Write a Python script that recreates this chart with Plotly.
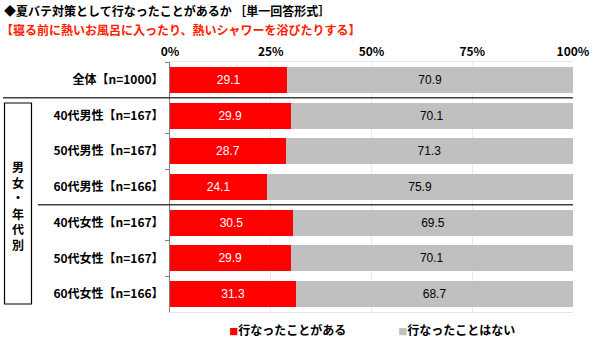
import plotly.graph_objects as go

categories = ["全体【n=1000】", "40代男性【n=167】", "50代男性【n=167】", "60代男性【n=166】",
              "40代女性【n=167】", "50代女性【n=167】", "60代女性【n=166】"]
done_vals = [29.1, 29.9, 28.7, 24.1, 30.5, 29.9, 31.3]
notdone_vals = [70.9, 70.1, 71.3, 75.9, 69.5, 70.1, 68.7]
series_names = ["行なったことがある", "行なったことはない"]
tick_vals = [0, 25, 50, 75, 100]
tick_text = ["0%", "25%", "50%", "75%", "100%"]

JP = "Noto Sans CJK JP"
RED = "#FF0000"
GRAY = "#C0C0C0"

fig = go.Figure()
fig.add_trace(go.Bar(
    y=categories, x=done_vals, orientation="h", name=series_names[0],
    marker=dict(color=RED, line=dict(width=0)),
    text=[f"{v:.1f}" for v in done_vals], textposition="inside", insidetextanchor="middle",
    textfont=dict(family="Liberation Sans", size=12, color="white"),
    showlegend=False,
))
fig.add_trace(go.Bar(
    y=categories, x=notdone_vals, orientation="h", name=series_names[1],
    marker=dict(color=GRAY, line=dict(width=0)),
    text=[f"{v:.1f}" for v in notdone_vals], textposition="inside", insidetextanchor="middle",
    textfont=dict(family="Liberation Sans", size=12, color="black"),
    showlegend=False,
))
# legend entries (coloured square drawn as part of the label text)
for name, col in zip(series_names, [RED, GRAY]):
    fig.add_trace(go.Scatter(
        x=[None], y=[None], mode="markers",
        name=f'<span style="color:{col};font-size:9px">■</span>{name}',
        marker=dict(symbol="square", size=1, color="rgba(0,0,0,0)")))

W_PLOT = 403
L = 170

def px2paper_x(p):
    return (p - L) / W_PLOT

shapes = [
    dict(type="line", xref="paper", yref="y", x0=px2paper_x(3), x1=1, y0=0.5, y1=0.5,
         line=dict(color="#404040", width=1.5)),
    dict(type="line", xref="paper", yref="y", x0=px2paper_x(38), x1=1, y0=3.5, y1=3.5,
         line=dict(color="#404040", width=1.5)),
    dict(type="rect", xref="paper", yref="paper", x0=px2paper_x(4.5), x1=px2paper_x(31.5),
         y0=1 - (304 - 62) / 250, y1=1 - (103 - 62) / 250,
         line=dict(color="black", width=1.2)),
]

annotations = [
    dict(text="◆夏バテ対策として行なったことがあるか ［単一回答形式］", xref="paper", yref="paper",
         x=px2paper_x(2), y=1 + (62 - 10) / 250, xanchor="left", yanchor="middle", showarrow=False,
         font=dict(family=JP, size=12, color="black", weight="bold")),
    dict(text="【寝る前に熱いお風呂に入ったり、熱いシャワーを浴びたりする】", xref="paper", yref="paper",
         x=px2paper_x(-1), y=1 + (62 - 30) / 250, xanchor="left", yanchor="middle", showarrow=False,
         font=dict(family=JP, size=12, color="#FF2000", weight="bold")),
    dict(text="<br>".join(list("男女・年代別")), xref="paper", yref="paper",
         x=px2paper_x(18), y=1 - (205 - 62) / 250, xanchor="center", yanchor="middle", showarrow=False,
         font=dict(family=JP, size=12, color="black", weight="bold")),
]

fig.update_layout(
    barmode="stack",
    bargap=0.27,
    width=600, height=344,
    margin=dict(l=L, r=600 - L - W_PLOT, t=62, b=32, autoexpand=False),
    paper_bgcolor="white", plot_bgcolor="white",
    shapes=shapes, annotations=annotations,
    legend=dict(orientation="h", x=0.048, xanchor="left", y=-0.016, yanchor="top",
                font=dict(family=JP, size=12, color="black", weight="bold"),
                entrywidth=124, itemwidth=30, traceorder="normal"),
    xaxis=dict(range=[0, 100], side="top", tickvals=tick_vals, ticktext=tick_text,
               showgrid=True, gridcolor="#EAEAEA", gridwidth=1, zeroline=False,
               showline=True, linecolor="#E6E6E6", mirror=True, ticks="",
               tickfont=dict(family=JP, size=12, color="black", weight="bold")),
    yaxis=dict(range=[6.5, -0.5], tickson="boundaries", ticks="outside", ticklen=4,
               tickcolor="#808080", showline=True, linecolor="#808080", linewidth=1,
               showgrid=False, ticklabelstandoff=3,
               tickfont=dict(family=JP, size=12, color="black", weight="bold")),
)

fig.write_html("out.html")
